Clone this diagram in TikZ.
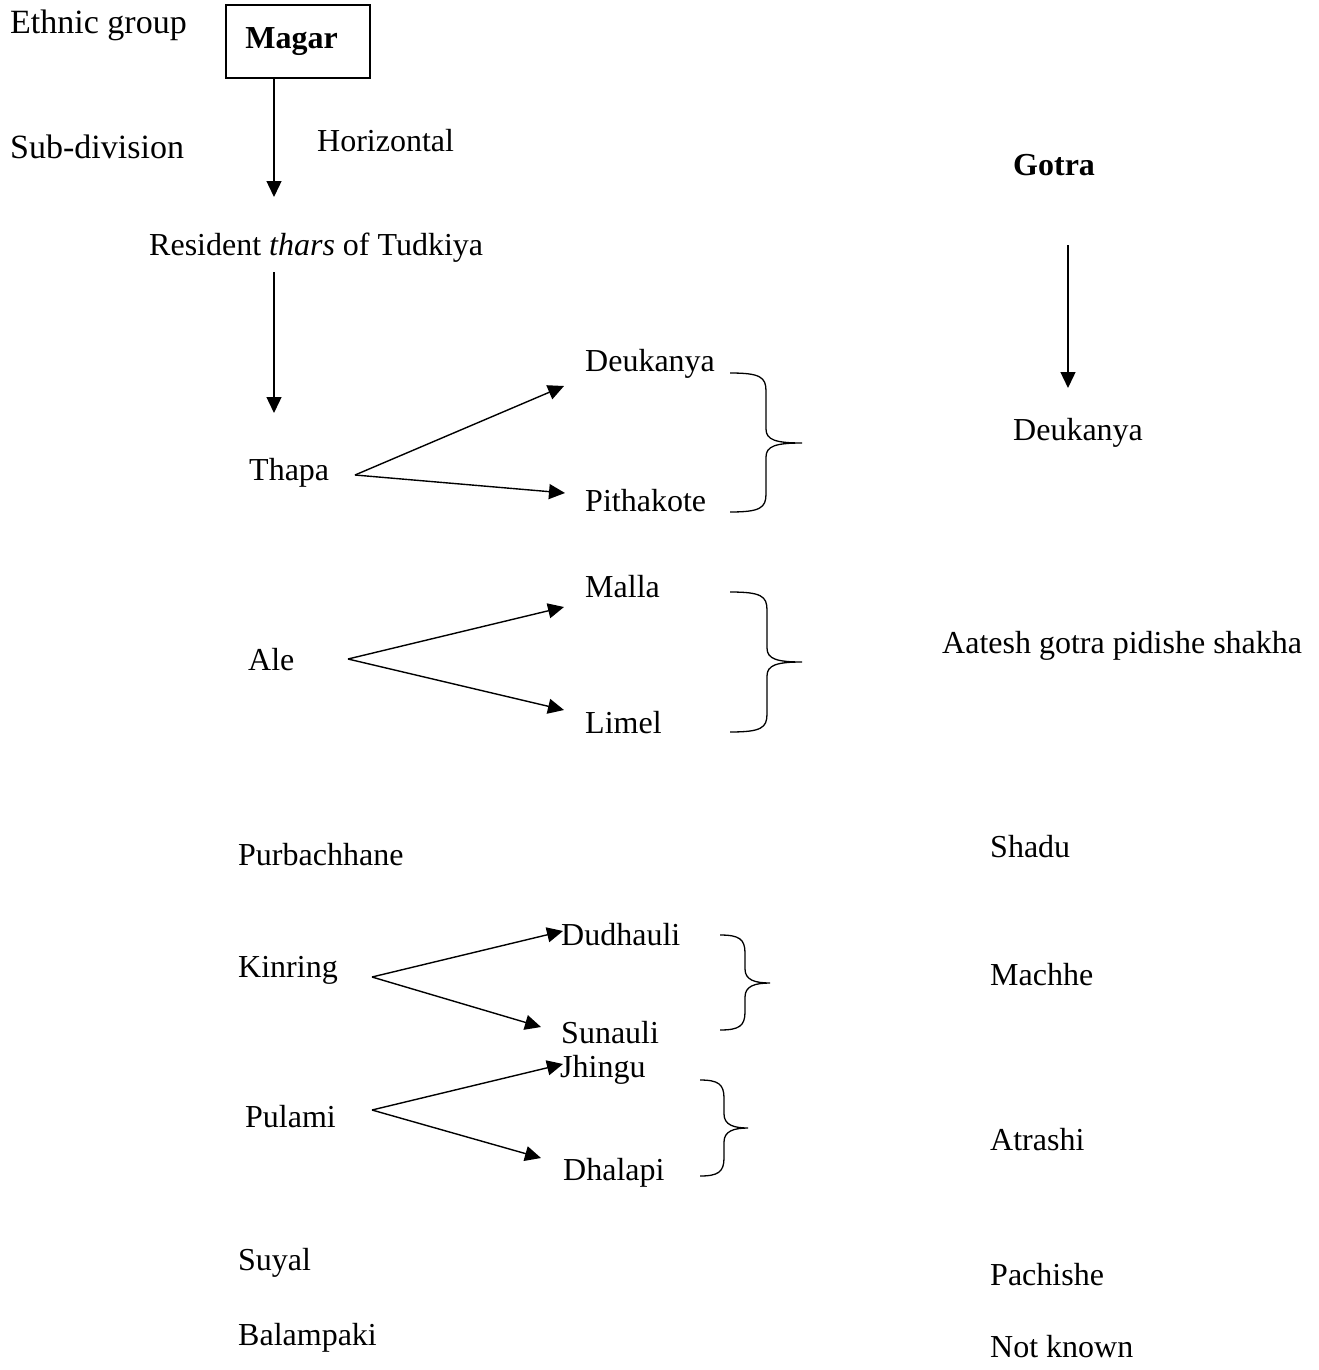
\documentclass[tikz,border=0pt]{standalone}
\usepackage{fontspec}
\setmainfont{Liberation Serif}
\usetikzlibrary{arrows.meta}

% curly brace: top end x, top y, spine x, tip x, tip y, bottom y
\newcommand{\gotrabrace}[6]{%
  \draw[bracel] (#1,#2) .. controls (#3-6,#2) and (#3,#2+4) .. (#3,#2+18)
    -- (#3,#5-14) .. controls (#3,#5-3) and (#3+10,#5) .. (#4,#5)
    .. controls (#3+10,#5) and (#3,#5+3) .. (#3,#5+14)
    -- (#3,#6-18) .. controls (#3,#6-4) and (#3-6,#6) .. (#1,#6);}

\begin{document}
\begin{tikzpicture}[x=1pt,y=-1pt,
  lbl/.style={anchor=base west,inner sep=0pt,font=\fontsize{32}{38}\selectfont},
  rowlbl/.style={lbl,font=\fontsize{34}{40}\selectfont},
  arr/.style={line width=1.4pt,-{Triangle[length=16pt,width=15pt]}},
  bracel/.style={line width=1.3pt},
  boxnode/.style={draw,line width=1.3pt,minimum width=144pt,minimum height=73pt,
    inner sep=0pt,font=\fontsize{32}{38}\selectfont\bfseries}]
\useasboundingbox (0,0) rectangle (1318,1370);

% row labels
\node[rowlbl] (eth) at (10,34) {Ethnic group};
\node[rowlbl] (sub) at (10,158) {Sub-division};

% top of the hierarchy
\node[boxnode] (magar) at (298,41.5) {\hspace*{-13pt}Magar};
\node[lbl] (horiz) at (317,151) {Horizontal};
\node[lbl] (res) at (149,255) {Resident \textit{thars} of Tudkiya};
\node[lbl] (gotra) at (1013,175) {\bfseries Gotra};

% thars
\node[lbl] (thapa) at (249,480) {Thapa};
\node[lbl] (ale) at (248,670) {Ale};
\node[lbl] (purb) at (238,865) {Purbachhane};
\node[lbl] (kinring) at (238,977) {Kinring};
\node[lbl] (pulami) at (245,1127) {Pulami};
\node[lbl] (suyal) at (238,1270) {Suyal};
\node[lbl] (balam) at (238,1345) {Balampaki};

% branches
\node[lbl] (deuk) at (585,371) {Deukanya};
\node[lbl] (pitha) at (585,511) {Pithakote};
\node[lbl] (malla) at (585,597) {Malla};
\node[lbl] (limel) at (585,733) {Limel};
\node[lbl] (dudh) at (561,945) {Dudhauli};
\node[lbl] (sunau) at (561,1043) {Sunauli};
\node[lbl] (jhingu) at (560,1077) {Jhingu};
\node[lbl] (dhal) at (563,1180) {Dhalapi};

% gotras
\node[lbl] (gdeuk) at (1013,440) {Deukanya};
\node[lbl] (aatesh) at (942,653) {Aatesh gotra pidishe shakha};
\node[lbl] (shadu) at (990,857) {Shadu};
\node[lbl] (machhe) at (990,985) {Machhe};
\node[lbl] (atrashi) at (990,1150) {Atrashi};
\node[lbl] (pachishe) at (990,1285) {Pachishe};
\node[lbl] (notknown) at (990,1357) {Not known};

% arrow end points
\coordinate (m1) at (274,197);
\coordinate (r0) at (274,272);
\coordinate (r1) at (274,413);
\coordinate (g0) at (1068,245);
\coordinate (g1) at (1068,388);

\coordinate (thF) at (355,475);
\coordinate (thU) at (564,386);
\coordinate (thD) at (565,493);
\coordinate (alF) at (348,659);
\coordinate (alU) at (564,607);
\coordinate (alD) at (564,710);
\coordinate (kiF) at (372,977);
\coordinate (kiU) at (563,931);
\coordinate (kiD) at (541,1027);
\coordinate (puF) at (372,1110);
\coordinate (puU) at (563,1064);
\coordinate (puD) at (541,1158);

% vertical arrows
\draw[arr] (magar.south -| m1) -- (m1);
\draw[arr] (r0) -- (r1);
\draw[arr] (g0) -- (g1);

% fan-out arrows
\draw[arr] (thF) -- (thU);
\draw[arr] (thF) -- (thD);
\draw[arr] (alF) -- (alU);
\draw[arr] (alF) -- (alD);
\draw[arr] (kiF) -- (kiU);
\draw[arr] (kiF) -- (kiD);
\draw[arr] (puF) -- (puU);
\draw[arr] (puF) -- (puD);

% braces grouping the branches
\gotrabrace{730}{373}{766}{802}{443}{512}
\gotrabrace{730}{592}{767}{802}{662}{732}
\gotrabrace{720}{935}{745}{770}{983}{1030}
\gotrabrace{700}{1080}{724}{748}{1128}{1176}
\end{tikzpicture}
\end{document}
